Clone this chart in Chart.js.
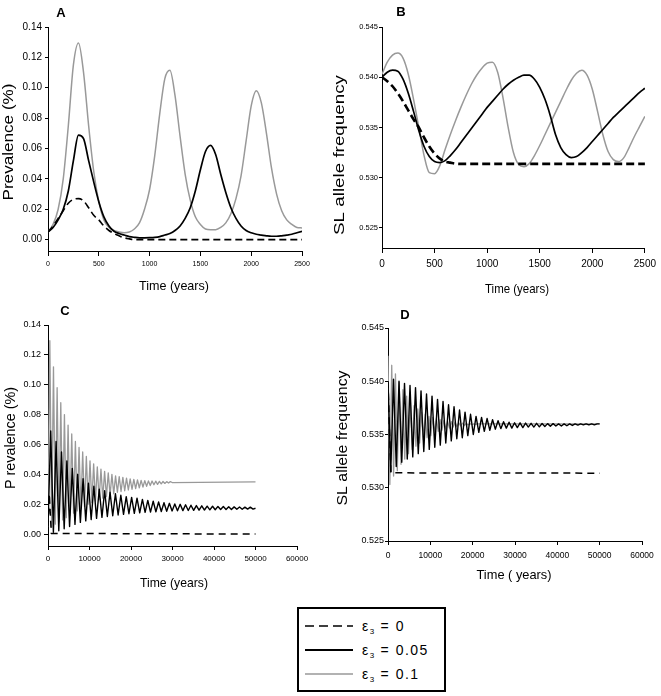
<!DOCTYPE html>
<html>
<head>
<meta charset="utf-8">
<script src="https://cdn.jsdelivr.net/npm/chart.js@4.4.1/dist/chart.umd.min.js"></script>
<style>
body { margin: 0; background: #fff; width: 661px; height: 696px; position: relative; overflow: hidden; font-family: 'Liberation Sans', Arial, sans-serif; }
canvas { position: absolute; }
#legend { position: absolute; left: 297px; top: 607px; width: 145px; height: 81px; border: 2px solid #000; }
#legend .row { position: absolute; left: 6px; height: 16px; }
#legend svg { position: absolute; left: 0; top: 5px; }
#legend span { position: absolute; left: 57px; top: 0; font-size: 14px; line-height: 16px; white-space: nowrap; letter-spacing: 1.5px; }
#legend sub { font-size: 8px; vertical-align: -3px; letter-spacing: 0; margin-right: 1px; }
</style>
</head>
<body>
<canvas id="panelA"></canvas>
<canvas id="panelB"></canvas>
<canvas id="panelC"></canvas>
<canvas id="panelD"></canvas>
<div id="legend">
  <div class="row" style="top:9px"><svg width="48" height="6"><line x1="0" y1="3" x2="48" y2="3" stroke="#000" stroke-width="1.6" stroke-dasharray="9,5"/></svg><span>ε<sub>3</sub> = 0</span></div>
  <div class="row" style="top:33px"><svg width="48" height="6"><line x1="0" y1="3" x2="48" y2="3" stroke="#000" stroke-width="2"/></svg><span>ε<sub>3</sub> = 0.05</span></div>
  <div class="row" style="top:57px"><svg width="48" height="6"><line x1="0" y1="3" x2="48" y2="3" stroke="#999" stroke-width="1.5"/></svg><span>ε<sub>3</sub> = 0.1</span></div>
</div>
<script>
// ---- data ----
// panels A and B: first 2500 years, one value every 50 years
const yearsAB = [0,50,100,150,200,250,300,350,400,450,500,550,600,650,700,750,800,850,900,950,1000,1050,1100,1150,1200,1250,1300,1350,1400,1450,1500,1550,1600,1650,1700,1750,1800,1850,1900,1950,2000,2050,2100,2150,2200,2250,2300,2350,2400,2450,2500];

const prevA_e0 = [0.005,0.009,0.014,0.019,0.024,0.0265,0.027,0.0255,0.021,0.016,0.013,0.009,0.006,0.004,0.0025,0.0012,0.0005,
  0,0,0,0,0,0,0,0,0,0,0,0,0,0,0,0,0,0,0,0,0,0,0,0,0,0,0,0,0,0,0,0,0,0];
const prevA_e005 = [0.005,0.008,0.013,0.020,0.032,0.052,0.0688,0.0665,0.052,0.038,0.025,0.015,0.009,0.0055,0.004,0.003,0.002,0.0015,0.0012,0.0012,
  0.0013,0.0015,0.002,0.003,0.004,0.006,0.009,0.014,0.021,0.032,0.046,0.058,0.062,0.056,0.043,0.031,0.021,0.014,0.009,0.006,
  0.0045,0.0035,0.003,0.0025,0.0022,0.0022,0.0025,0.003,0.0035,0.0045,0.0055];
const prevA_e01 = [0.005,0.010,0.020,0.040,0.075,0.115,0.1295,0.110,0.075,0.045,0.025,0.013,0.008,0.006,0.005,0.0045,0.005,0.007,0.011,0.020,
  0.033,0.055,0.083,0.106,0.1115,0.095,0.068,0.043,0.026,0.015,0.010,0.007,0.0065,0.0065,0.008,0.011,0.017,0.027,0.042,0.065,
  0.088,0.098,0.090,0.070,0.047,0.030,0.019,0.013,0.010,0.008,0.0077];

const freqB_e0 = [0.5400,0.5396,0.5391,0.5384,0.5376,0.5367,0.5358,0.5350,0.5340,0.5331,0.5324,0.5319,0.5316,0.5315,0.5314,
  0.53137,0.53137,0.53137,0.53137,0.53137,0.53137,0.53137,0.53137,0.53137,0.53137,0.53137,0.53137,0.53137,0.53137,0.53137,0.53137,0.53137,0.53137,
  0.53137,0.53137,0.53137,0.53137,0.53137,0.53137,0.53137,0.53137,0.53137,0.53137,0.53137,0.53137,0.53137,0.53137,0.53137,0.53137,0.53137,0.53137];
const freqB_e005 = [0.5400,0.5405,0.5407,0.5406,0.5398,0.5384,0.5366,0.5347,0.5331,0.5321,0.5316,0.5315,0.5317,0.5322,0.5328,0.5335,0.5342,0.5349,0.5356,0.5363,
  0.5370,0.5376,0.5382,0.5388,0.5393,0.5397,0.5400,0.5402,0.5402,0.5398,0.5390,0.5378,0.5362,0.5343,0.5330,0.5323,0.5320,0.5321,0.5325,0.5330,
  0.5336,0.5342,0.5348,0.5354,0.5360,0.5365,0.5370,0.5375,0.5380,0.5385,0.5389];
const freqB_e01 = [0.5403,0.5415,0.5422,0.5424,0.5419,0.5403,0.5378,0.5350,0.5322,0.5305,0.5304,0.5312,0.5328,0.5343,0.5357,0.5370,0.5382,0.5393,0.5402,0.5409,
  0.5414,0.5415,0.5405,0.5380,0.5350,0.5325,0.5313,0.5311,0.5314,0.5322,0.5332,0.5343,0.5354,0.5365,0.5376,0.5387,0.5397,0.5404,0.5407,0.5402,
  0.5388,0.5366,0.5343,0.5326,0.5318,0.5316,0.5320,0.5330,0.5341,0.5351,0.5361];

// panels C and D: 50000 years, alternating peaks and troughs
const stepE005 = 650;   // years between a peak and the next trough, eps3 = 0.05
const stepE01 = 440;    // same for eps3 = 0.1
const endYear = 50000;

const timesC_e0 = [0, 300, 800, 50000];
const prevC_e0 = [0.005, 0.027, 0.0004, 0];
const prevC_e005 = [0.005,
  0.069,0.0012, 0.062,0.0022, 0.055,0.0035, 0.049,0.005, 0.044,0.0065, 0.040,0.0078, 0.037,0.0088, 0.034,0.0097, 0.032,0.0105, 0.030,0.0112,
  0.029,0.0118, 0.028,0.0123, 0.027,0.0128, 0.026,0.0132, 0.025,0.0136, 0.0245,0.0139, 0.024,0.0142, 0.0232,0.0145, 0.0225,0.0147, 0.022,0.0149,
  0.0215,0.0151, 0.021,0.0153, 0.0206,0.0155, 0.0202,0.0156, 0.0199,0.0157, 0.0196,0.0158, 0.0193,0.0159, 0.0191,0.016, 0.0189,0.0161, 0.0187,0.0162,
  0.0186,0.0163, 0.0185,0.0164, 0.0184,0.0164, 0.0183,0.0165, 0.0182,0.0166, 0.0181,0.0166, 0.018,0.0167, 0.018,0.0167];
const prevC_e005_end = 0.0173;
const prevC_e01 = [0.005,
  0.1295,0.0046, 0.112,0.0066, 0.098,0.008, 0.088,0.0095, 0.080,0.011, 0.073,0.0125, 0.067,0.014, 0.062,0.0155, 0.058,0.017, 0.055,0.0185,
  0.052,0.020, 0.049,0.021, 0.047,0.022, 0.045,0.023, 0.0435,0.024, 0.042,0.025, 0.041,0.026, 0.040,0.027, 0.039,0.028, 0.0385,0.0285,
  0.038,0.029, 0.0375,0.0295, 0.037,0.030, 0.0366,0.0305, 0.0363,0.031, 0.036,0.0315, 0.0358,0.032, 0.0356,0.0325, 0.0355,0.033, 0.0354,0.0333,
  0.0353,0.0336, 0.0352,0.0339, 0.0351,0.0342, 0.0351,0.0345];
const prevC_e01_end = 0.0349;

const timesD_e0 = [0, 300, 700, 50000];
const freqD_e0 = [0.5400, 0.5358, 0.5314, 0.53137];
const freqD_e005 = [0.5400,
  0.5315,0.5402, 0.5320,0.5400, 0.5324,0.5398, 0.5327,0.5396, 0.5329,0.5394, 0.5332,0.5391, 0.5334,0.5388, 0.5336,0.5386, 0.5338,0.5383, 0.5340,0.5381,
  0.5342,0.5378, 0.5344,0.5376, 0.5346,0.5373, 0.5347,0.5371, 0.5349,0.5369, 0.5350,0.5367, 0.5352,0.5366, 0.5353,0.5365, 0.5354,0.5364, 0.5355,0.5363,
  0.53555,0.5362, 0.5356,0.53615, 0.5356,0.5361, 0.53565,0.5361, 0.53565,0.53607, 0.5357,0.53605, 0.5357,0.53605, 0.53572,0.53603, 0.53575,0.53602, 0.53578,0.53602,
  0.5358,0.5360, 0.5358,0.5360, 0.53582,0.5360, 0.53585,0.5360, 0.53588,0.5360, 0.5359,0.5360, 0.5359,0.5360, 0.5359,0.5360];
const freqD_e005_end = 0.5360;
const freqD_e01 = [0.5424,
  0.5303,0.5415, 0.5311,0.5407, 0.5316,0.5399, 0.5322,0.5392, 0.5327,0.5386, 0.5332,0.5381, 0.5336,0.5377, 0.5339,0.5374, 0.5342,0.5371, 0.5345,0.5369,
  0.5347,0.5367, 0.5349,0.5366, 0.5351,0.5365, 0.5353,0.5364, 0.5354,0.5363, 0.5355,0.53625, 0.5356,0.5362, 0.5357,0.53615, 0.53575,0.5361, 0.5358,0.53607,
  0.53585,0.53605, 0.5359,0.53603, 0.53592,0.5360, 0.53595,0.5360];
const freqD_e01_end = 0.5360;

// tick labels
const ticksTimeAB = [0, 500, 1000, 1500, 2000, 2500];
const ticksTimeCD = [0, 10000, 20000, 30000, 40000, 50000, 60000];
const ticksPrev = [0, 0.02, 0.04, 0.06, 0.08, 0.10, 0.12, 0.14];
const ticksFreq = [0.525, 0.530, 0.535, 0.540, 0.545];

// ---- drawing ----
const FONT = "'Liberation Sans', Arial, sans-serif";

const panelText = {
  id: 'panelText',
  afterDraw(chart, args, opts) {
    const ctx = chart.ctx;
    (opts.items || []).forEach(it => {
      ctx.save();
      ctx.font = it.font;
      ctx.fillStyle = '#000';
      ctx.textAlign = 'center';
      ctx.textBaseline = 'middle';
      ctx.translate(it.x - opts.ox, it.y - opts.oy);
      if (it.rotate) ctx.rotate(-Math.PI / 2);
      if (it.len) {
        const w = ctx.measureText(it.text).width;
        ctx.scale(it.len / w, 1);
      }
      ctx.fillText(it.text, 0, 0);
      ctx.restore();
    });
  }
};

function pairPoints(xs, ys) {
  return ys.map((y, i) => ({ x: xs[i], y: y }));
}
function stepPoints(step, ys, endY) {
  const pts = ys.map((y, i) => ({ x: i * step, y: y }));
  pts.push({ x: endYear, y: endY });
  return pts;
}

function line(points, color, width, dash, smooth) {
  return {
    data: points,
    borderColor: color,
    borderWidth: width,
    borderDash: dash || [],
    fill: false,
    pointRadius: 0,
    tension: 0,
    cubicInterpolationMode: smooth ? 'monotone' : 'default',
    borderJoinStyle: 'round'
  };
}

function makePanel(cfg) {
  const cv = document.getElementById(cfg.id);
  const b = cfg.box, a = cfg.area;
  cv.width = b.w; cv.height = b.h;
  cv.style.left = b.x + 'px';
  cv.style.top = b.y + 'px';
  const yW = a.left - b.x;
  const xH = b.y + b.h - a.bottom;
  return new Chart(cv, {
    type: 'line',
    data: { datasets: cfg.datasets },
    options: {
      responsive: false,
      animation: false,
      devicePixelRatio: 1,
      events: [],
      layout: { padding: { left: 0, top: a.top - b.y, right: b.x + b.w - a.right, bottom: 0 } },
      plugins: {
        legend: { display: false },
        tooltip: { enabled: false },
        panelText: { items: cfg.texts, ox: b.x, oy: b.y }
      },
      scales: {
        x: {
          type: 'linear',
          min: cfg.x.min, max: cfg.x.max,
          afterBuildTicks: s => { s.ticks = cfg.x.ticks.map(v => ({ value: v })); },
          afterFit: s => { s.height = xH; },
          ticks: { font: { family: FONT, size: cfg.x.size }, color: '#000', padding: cfg.x.pad, maxRotation: 0, autoSkip: false,
                   callback: v => String(v) },
          grid: { drawOnChartArea: false, drawTicks: true, tickLength: cfg.x.tl, color: '#000' },
          border: { display: true, color: '#000', width: 1 }
        },
        y: {
          type: 'linear',
          min: cfg.y.min, max: cfg.y.max,
          afterBuildTicks: s => { s.ticks = cfg.y.ticks.map(v => ({ value: v })); },
          afterFit: s => { s.width = yW; },
          ticks: { font: { family: FONT, size: cfg.y.size }, color: '#000', padding: cfg.y.pad, autoSkip: false,
                   callback: v => Number(v).toFixed(cfg.y.digits) },
          grid: { drawOnChartArea: false, drawTicks: true, tickLength: cfg.y.tl, color: '#000' },
          border: { display: true, color: '#000', width: 1 }
        }
      }
    },
    plugins: [panelText]
  });
}

const GRAY = '#999999';

makePanel({
  id: 'panelA',
  box: { x: 0, y: 0, w: 330, h: 296 },
  area: { left: 48, top: 27, right: 302, bottom: 251 },
  x: { min: 0, max: 2500, ticks: ticksTimeAB, size: 7, pad: 4, tl: 5 },
  y: { min: -0.0075, max: 0.14, ticks: ticksPrev, size: 10, pad: 3, tl: 3, digits: 2 },
  datasets: [
    line(pairPoints(yearsAB, prevA_e0), '#000', 1.6, [7, 4], true),
    line(pairPoints(yearsAB, prevA_e005), '#000', 1.7, null, true),
    line(pairPoints(yearsAB, prevA_e01), GRAY, 1.5, null, true)
  ],
  texts: [
    { text: 'A', x: 61, y: 13, font: "bold 13px " + FONT },
    { text: 'Prevalence (%)', x: 9, y: 142, font: "15px " + FONT, rotate: true, len: 117 },
    { text: 'Time (years)', x: 174, y: 286, font: "13px " + FONT, len: 70 }
  ]
});

makePanel({
  id: 'panelB',
  box: { x: 330, y: 0, w: 331, h: 296 },
  area: { left: 382, top: 27, right: 645, bottom: 248 },
  x: { min: 0, max: 2500, ticks: ticksTimeAB, size: 10, pad: 5, tl: 5 },
  y: { min: 0.523, max: 0.545, ticks: ticksFreq, size: 7.5, pad: 1, tl: 3, digits: 3 },
  datasets: [
    line(pairPoints(yearsAB, freqB_e0), '#000', 2.6, [8, 4], true),
    line(pairPoints(yearsAB, freqB_e005), '#000', 1.7, null, true),
    line(pairPoints(yearsAB, freqB_e01), GRAY, 1.5, null, true)
  ],
  texts: [
    { text: 'B', x: 401, y: 12, font: "bold 13px " + FONT },
    { text: 'SL allele frequency', x: 340, y: 155, font: "15px " + FONT, rotate: true, len: 160 },
    { text: 'Time (years)', x: 517, y: 289, font: "13px " + FONT, len: 64 }
  ]
});

makePanel({
  id: 'panelC',
  box: { x: 0, y: 296, w: 330, h: 300 },
  area: { left: 48, top: 325, right: 297, bottom: 546 },
  x: { min: 0, max: 60000, ticks: ticksTimeCD, size: 8, pad: 4, tl: 4 },
  y: { min: -0.008, max: 0.14, ticks: ticksPrev, size: 9, pad: 3, tl: 4, digits: 2 },
  datasets: [
    line(pairPoints(timesC_e0, prevC_e0), '#000', 1.5, [7, 5], false),
    line(stepPoints(stepE005, prevC_e005, prevC_e005_end), '#000', 1.4, null, false),
    line(stepPoints(stepE01, prevC_e01, prevC_e01_end), GRAY, 1.3, null, false)
  ],
  texts: [
    { text: 'C', x: 65, y: 311, font: "bold 13px " + FONT },
    { text: 'P revalence (%)', x: 11, y: 438, font: "15px " + FONT, rotate: true, len: 102 },
    { text: 'Time (years)', x: 174, y: 583, font: "13px " + FONT, len: 68 }
  ]
});

makePanel({
  id: 'panelD',
  box: { x: 330, y: 296, w: 331, h: 300 },
  area: { left: 388, top: 328, right: 642, bottom: 541 },
  x: { min: 0, max: 60000, ticks: ticksTimeCD, size: 8.5, pad: 6, tl: 4 },
  y: { min: 0.525, max: 0.545, ticks: ticksFreq, size: 9, pad: 1, tl: 3, digits: 3 },
  datasets: [
    line(pairPoints(timesD_e0, freqD_e0), '#000', 1.5, [7, 5], false),
    line(stepPoints(stepE005, freqD_e005, freqD_e005_end), '#000', 1.4, null, false),
    line(stepPoints(stepE01, freqD_e01, freqD_e01_end), GRAY, 1.3, null, false)
  ],
  texts: [
    { text: 'D', x: 405, y: 315, font: "bold 13px " + FONT },
    { text: 'SL allele frequency', x: 343, y: 438, font: "15px " + FONT, rotate: true, len: 135 },
    { text: 'Time ( years)', x: 514, y: 575, font: "13px " + FONT, len: 75 }
  ]
});
</script>
</body>
</html>
